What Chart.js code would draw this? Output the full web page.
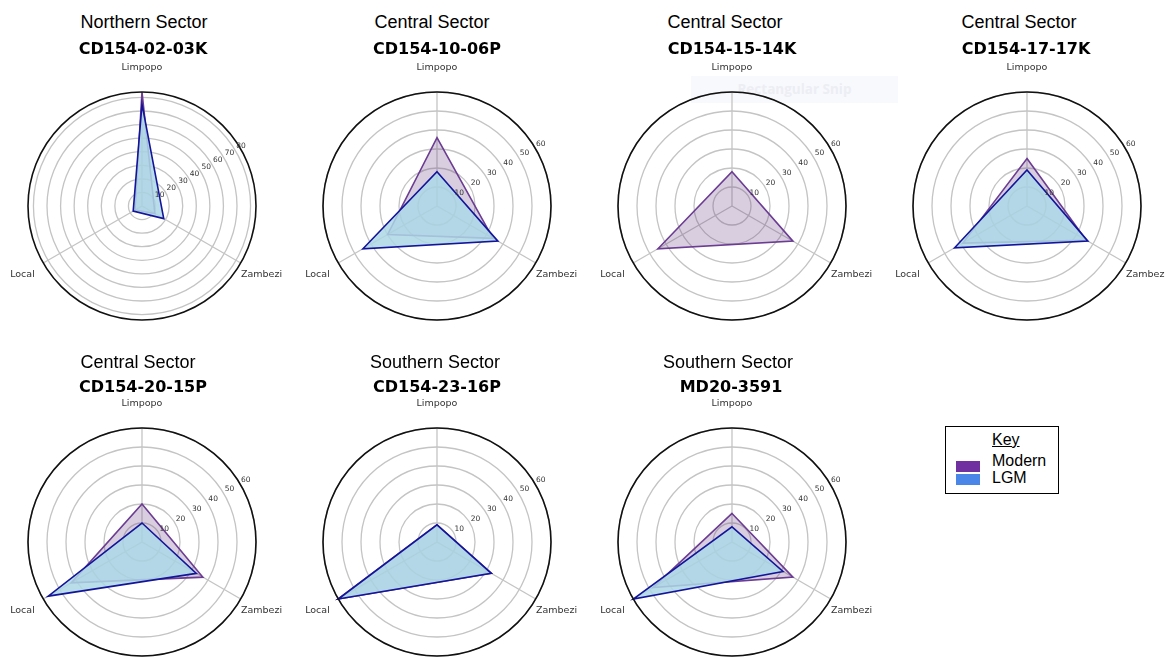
<!DOCTYPE html>
<html>
<head>
<meta charset="utf-8">
<script src="https://cdn.jsdelivr.net/npm/chart.js@4/dist/chart.umd.min.js"></script>
<style>
  html, body { margin: 0; padding: 0; background: #fff; }
  body { position: relative; width: 1165px; height: 657px; overflow: hidden; }
  canvas { position: absolute; z-index: 1; }
  .title { position: absolute; white-space: nowrap; transform: translateX(-50%);
           font-family: "Liberation Sans", Arial, sans-serif; font-size: 18px; line-height: 18px; color: #000; z-index: 2; }
  .core { position: absolute; white-space: nowrap; transform: translateX(-50%);
          font-family: "DejaVu Sans", sans-serif; font-weight: bold; font-size: 16px; line-height: 16px; color: #000; z-index: 2; }
  .key { position: absolute; left: 945px; top: 426px; width: 114px; height: 68px; border: 1px solid #000; box-sizing: border-box; background: #fff; z-index: 2; }
  .key span { position: absolute; font-family: "Liberation Sans", Arial, sans-serif; font-size: 16px; line-height: 16px; color: #000; white-space: nowrap; }
  .key i { position: absolute; display: block; width: 24px; }
  .snip { position: absolute; left: 691px; top: 76px; width: 207px; height: 27px; background: #f8f9fc; z-index: 0;
          font-family: "Open Sans", sans-serif; font-weight: bold; font-size: 13.5px; line-height: 27px; color: #eceef4; text-align: center; }
</style>
</head>
<body>
<div class="snip">Rectangular Snip</div>
<div class="key">
  <span style="left:46px; top:5px; text-decoration: underline;">Key</span>
  <i style="left:10px; top:34px; height:11px; background:#7030a0;"></i>
  <span style="left:46px; top:26px;">Modern</span>
  <i style="left:10px; top:47px; height:11px; background:#4a86e8;"></i>
  <span style="left:46px; top:43px;">LGM</span>
</div>
<script>
// Provenance categories, one spoke each (clockwise from the top)
const categories = ['Limpopo', 'Zambezi', 'Local'];

// Core sites
const sectors = ['Northern Sector', 'Central Sector', 'Central Sector', 'Central Sector',
                 'Central Sector', 'Southern Sector', 'Southern Sector'];
const cores = ['CD154-02-03K', 'CD154-10-06P', 'CD154-15-14K', 'CD154-17-17K',
               'CD154-20-15P', 'CD154-23-16P', 'MD20-3591'];

// Source contributions (%) in category order: Limpopo, Zambezi, Local
const modern = [
  [84, 11, 6],
  [36, 34, 30],
  [18, 37, 45],
  [25, 36, 39],
  [20, 37, 43],
  [9, 33, 60],
  [15, 37, 48]
];
const lgm = [
  [75, 18.5, 7.5],
  [18, 37, 45],
  null,
  [19, 37, 44],
  [10, 33, 57],
  [9, 33, 60],
  [8, 31, 60]
];

// Radial axis range and tick step per core
const radialMax = [84, 60, 60, 60, 60, 60, 60];
const radialStep = 10;

// Page layout: panel centres and title anchors
const centerX = [142, 437, 732, 1027, 142, 437, 732];
const centerY = [206, 206, 206, 206, 542, 542, 542];
const titleX = [144, 432, 725, 1019, 138, 435, 728];
const coreX = [143, 437, 732, 1026, 143, 437, 731];
const titleTop = [13, 13, 13, 13, 353, 353, 353];
const coreTop = [40.5, 40.5, 40.5, 40.5, 378.5, 378.5, 378.5];

const RADIUS = 114;
const BOX = 300;
const TICK_ANGLE = 31 * Math.PI / 180;

// Circular frame, radial tick labels and spoke labels
const polarDecor = {
  id: 'polarDecor',
  afterDatasetsDraw(chart) {
    const s = chart.scales.r;
    const ctx = chart.ctx;
    ctx.save();
    ctx.beginPath();
    ctx.arc(s.xCenter, s.yCenter, s.drawingArea, 0, Math.PI * 2);
    ctx.strokeStyle = '#111';
    ctx.lineWidth = 1.6;
    ctx.stroke();

    ctx.fillStyle = '#333';
    ctx.textAlign = 'center';
    ctx.textBaseline = 'middle';
    ctx.font = '7.5px "DejaVu Sans"';
    s.ticks.forEach(t => {
      if (t.value === 0) return;
      const d = s.getDistanceFromCenterForValue(t.value) + 7;
      ctx.fillText(String(t.value), s.xCenter + d * Math.cos(TICK_ANGLE), s.yCenter - d * Math.sin(TICK_ANGLE));
    });

    ctx.font = '9.5px "DejaVu Sans"';
    chart.data.labels.forEach((lab, i) => {
      const p = s.getPointPosition(i, s.drawingArea + 24);
      ctx.fillText(lab, p.x, p.y);
    });
    ctx.restore();
  }
};

for (let k = 0; k < cores.length; k++) {
  const t = document.createElement('div');
  t.className = 'title';
  t.textContent = sectors[k];
  t.style.left = titleX[k] + 'px';
  t.style.top = titleTop[k] + 'px';
  document.body.appendChild(t);

  const c = document.createElement('div');
  c.className = 'core';
  c.textContent = cores[k];
  c.style.left = coreX[k] + 'px';
  c.style.top = coreTop[k] + 'px';
  document.body.appendChild(c);

  const canvas = document.createElement('canvas');
  canvas.width = BOX;
  canvas.height = BOX;
  canvas.style.left = (centerX[k] - BOX / 2) + 'px';
  canvas.style.top = (centerY[k] - BOX / 2) + 'px';
  document.body.appendChild(canvas);

  const datasets = [{
    label: 'Modern',
    data: modern[k],
    borderColor: '#6c3c92',
    backgroundColor: 'rgba(100, 60, 130, 0.25)',
    fill: true,
    order: 2
  }];
  if (lgm[k]) {
    datasets.push({
      label: 'LGM',
      data: lgm[k],
      borderColor: '#14149b',
      backgroundColor: 'rgba(173, 216, 230, 0.85)',
      fill: true,
      order: 1
    });
  }

  new Chart(canvas, {
    type: 'radar',
    data: { labels: categories, datasets },
    options: {
      responsive: false,
      animation: false,
      devicePixelRatio: 1,
      layout: { padding: BOX / 2 - RADIUS },
      plugins: { legend: { display: false }, tooltip: { enabled: false } },
      elements: {
        line: { borderWidth: 1.6, tension: 0 },
        point: { radius: 0, hoverRadius: 0 }
      },
      scales: {
        r: {
          min: 0,
          max: radialMax[k],
          ticks: { display: false, stepSize: radialStep, includeBounds: false },
          grid: { circular: true, color: '#c4c4c4', lineWidth: 1.3 },
          angleLines: { color: '#c4c4c4', lineWidth: 1.3 },
          pointLabels: { display: false }
        }
      }
    },
    plugins: [polarDecor]
  });
}
</script>
</body>
</html>
